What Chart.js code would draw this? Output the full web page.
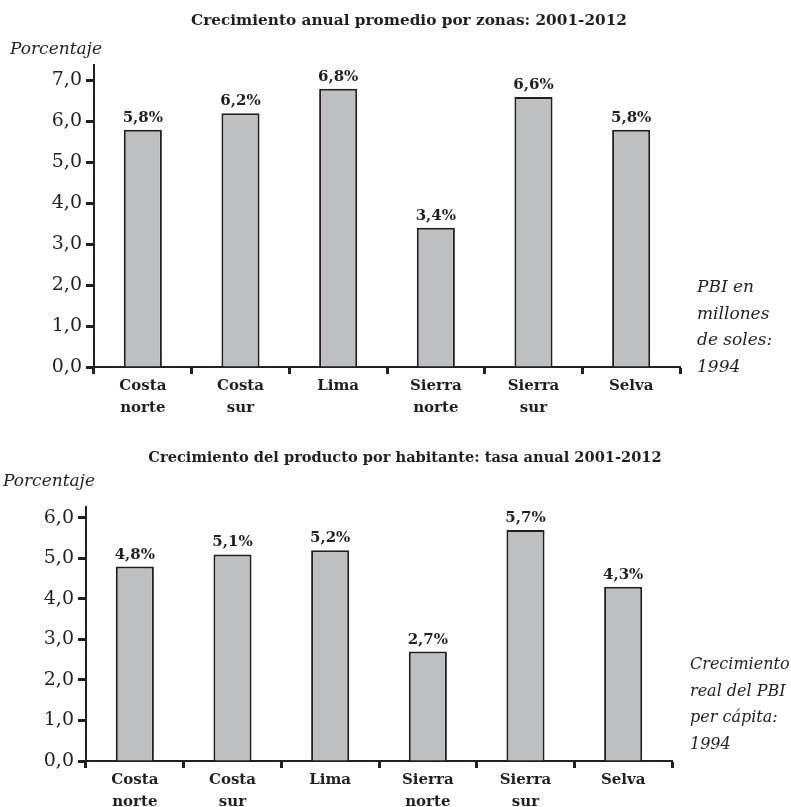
<!DOCTYPE html>
<html>
<head>
<meta charset="utf-8">
<script src="https://cdn.jsdelivr.net/npm/chart.js@4.4.1/dist/chart.umd.min.js"></script>
<style>
  body { margin: 0; background: #fff; }
  .box { position: absolute; left: 0; width: 791px; }
</style>
</head>
<body>
<div class="box" style="top:0;height:420px"><canvas id="zonas"></canvas></div>
<div class="box" style="top:420px;height:387px"><canvas id="habitante"></canvas></div>
<script>
const zonas = [['Costa', 'norte'], ['Costa', 'sur'], 'Lima', ['Sierra', 'norte'], ['Sierra', 'sur'], 'Selva'];
const crecimientoPBI = [5.8, 6.2, 6.8, 3.4, 6.6, 5.8];
const crecimientoPerCapita = [4.8, 5.1, 5.2, 2.7, 5.7, 4.3];
const ticksPBI = [0, 1, 2, 3, 4, 5, 6, 7];
const ticksPerCapita = [0, 1, 2, 3, 4, 5, 6];

const ink = '#231f20';
const serif = '"DejaVu Serif", serif';
const coma = v => v.toFixed(1).replace('.', ',');

// titles, axis caption, side note and value labels
const textos = {
  id: 'textos',
  afterDraw(chart, args, o) {
    const { ctx } = chart;
    ctx.save();
    ctx.fillStyle = ink;
    ctx.textBaseline = 'middle';
    ctx.textAlign = 'center';
    ctx.font = 'bold ' + o.tituloSize + 'px ' + serif;
    ctx.fillText(o.titulo, o.tituloX, o.tituloY);

    ctx.textAlign = 'left';
    ctx.font = 'italic 17px ' + serif;
    ctx.fillText('Porcentaje', o.ejeX, o.ejeY);
    ctx.font = 'italic ' + o.notaSize + 'px ' + serif;
    o.nota.forEach((t, i) => ctx.fillText(t, o.notaX, o.notaY + i * 26.5));

    ctx.textAlign = 'center';
    ctx.textBaseline = 'alphabetic';
    ctx.font = 'bold 15px ' + serif;
    const valores = chart.data.datasets[0].data;
    chart.getDatasetMeta(0).data.forEach((bar, i) => {
      ctx.fillText(coma(valores[i]) + '%', bar.x, bar.y - 8);
    });
    ctx.restore();
  }
};

function grafico(id, valores, ticks, ymax, caja, notas) {
  new Chart(document.getElementById(id), {
    type: 'bar',
    data: {
      labels: zonas,
      datasets: [{
        data: valores,
        backgroundColor: '#bebfc1',
        borderColor: ink,
        borderWidth: 2,
        borderSkipped: 'bottom',
        barPercentage: 0.39,
        categoryPercentage: 1
      }]
    },
    options: {
      responsive: true,
      maintainAspectRatio: false,
      animation: false,
      events: [],
      layout: { padding: { left: 0, right: caja.right, top: caja.top, bottom: 0 } },
      plugins: { legend: { display: false }, tooltip: { enabled: false }, textos: notas },
      scales: {
        x: {
          afterFit: s => { s.height = caja.xh; },
          border: { color: ink, width: 2 },
          grid: { drawOnChartArea: false, drawTicks: true, tickLength: 7, tickWidth: 3, color: ink, offset: true },
          ticks: { color: ink, padding: 1, font: { family: serif, size: 15, weight: 'bold', lineHeight: 1.45 } }
        },
        y: {
          min: 0,
          max: ymax,
          afterFit: s => { s.width = caja.left; },
          afterBuildTicks: s => { s.ticks = ticks.map(v => ({ value: v })); },
          border: { color: ink, width: 2 },
          grid: { drawOnChartArea: false, drawTicks: true, tickLength: 8, tickWidth: 3, color: ink },
          ticks: { color: ink, padding: 4, font: { family: serif, size: 19 }, callback: v => coma(v) }
        }
      }
    },
    plugins: [textos]
  });
}

grafico('zonas', crecimientoPBI, ticksPBI, 7.38,
  { left: 94, right: 111, top: 65, xh: 53 },
  {
    titulo: 'Crecimiento anual promedio por zonas: 2001-2012', tituloX: 409, tituloY: 21, tituloSize: 15.3,
    ejeX: 10, ejeY: 50,
    nota: ['PBI en', 'millones', 'de soles:', '1994'], notaX: 697, notaY: 288, notaSize: 17
  });

grafico('habitante', crecimientoPerCapita, ticksPerCapita, 6.27,
  { left: 86, right: 119, top: 87, xh: 46 },
  {
    titulo: 'Crecimiento del producto por habitante: tasa anual 2001-2012', tituloX: 405, tituloY: 38, tituloSize: 14.6,
    ejeX: 3, ejeY: 62,
    nota: ['Crecimiento', 'real del PBI', 'per cápita:', '1994'], notaX: 690, notaY: 245, notaSize: 16
  });
</script>
</body>
</html>
